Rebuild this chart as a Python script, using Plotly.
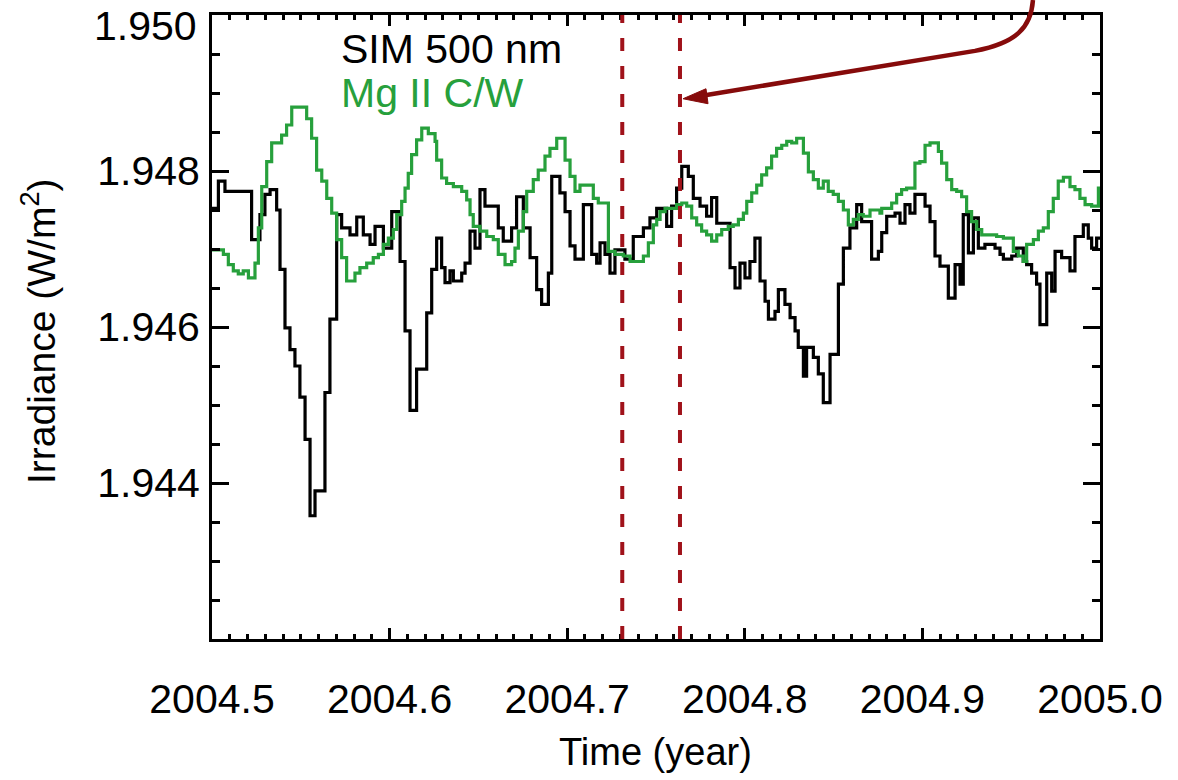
import plotly.graph_objects as go

# ---------------- data ----------------
sim_time = [
    2004.5000, 2004.5036, 2004.5073, 2004.5223, 2004.5270, 2004.5298, 2004.5327, 2004.5364,
    2004.5383, 2004.5411, 2004.5439, 2004.5467, 2004.5495, 2004.5524, 2004.5552, 2004.5580,
    2004.5636, 2004.5664, 2004.5702, 2004.5730, 2004.5777, 2004.5815, 2004.5852, 2004.5890,
    2004.5918, 2004.5965, 2004.6012, 2004.6059, 2004.6087, 2004.6115, 2004.6152, 2004.6209,
    2004.6237, 2004.6265, 2004.6293, 2004.6312, 2004.6340, 2004.6359, 2004.6406, 2004.6425,
    2004.6453, 2004.6481, 2004.6509, 2004.6537, 2004.6612, 2004.6640, 2004.6687, 2004.6715,
    2004.6753, 2004.6791, 2004.6828, 2004.6856, 2004.6894, 2004.6913, 2004.6959, 2004.6988,
    2004.7016, 2004.7044, 2004.7091, 2004.7138, 2004.7166, 2004.7185, 2004.7213, 2004.7241,
    2004.7269, 2004.7325, 2004.7372, 2004.7429, 2004.7466, 2004.7504, 2004.7560, 2004.7588,
    2004.7616, 2004.7645, 2004.7682, 2004.7710, 2004.7748, 2004.7785, 2004.7813, 2004.7842,
    2004.7917, 2004.7945, 2004.7973, 2004.8001, 2004.8029, 2004.8057, 2004.8086, 2004.8114,
    2004.8133, 2004.8170, 2004.8189, 2004.8226, 2004.8255, 2004.8283, 2004.8301, 2004.8330,
    2004.8348, 2004.8386, 2004.8414, 2004.8442, 2004.8480, 2004.8527, 2004.8555, 2004.8592,
    2004.8630, 2004.8658, 2004.8714, 2004.8752, 2004.8771, 2004.8799, 2004.8846, 2004.8874,
    2004.8902, 2004.8930, 2004.8958, 2004.9015, 2004.9043, 2004.9071, 2004.9099, 2004.9146,
    2004.9184, 2004.9212, 2004.9230, 2004.9259, 2004.9287, 2004.9315, 2004.9352, 2004.9409,
    2004.9437, 2004.9456, 2004.9503, 2004.9531, 2004.9568, 2004.9587, 2004.9615, 2004.9643,
    2004.9662, 2004.9700, 2004.9728, 2004.9747, 2004.9784, 2004.9831, 2004.9859, 2004.9906,
    2004.9934, 2004.9953, 2004.9981, 2005.0000,
]
sim_irradiance = [
    1.94752, 1.94787, 1.94774, 1.94712, 1.94744, 1.94770, 1.94776, 1.94750,
    1.94674, 1.94599, 1.94571, 1.94550, 1.94510, 1.94456, 1.94358, 1.94390,
    1.94516, 1.94610, 1.94744, 1.94727, 1.94718, 1.94741, 1.94718, 1.94706,
    1.94729, 1.94701, 1.94748, 1.94684, 1.94595, 1.94493, 1.94546, 1.94618,
    1.94674, 1.94714, 1.94676, 1.94657, 1.94672, 1.94659, 1.94669, 1.94682,
    1.94723, 1.94701, 1.94776, 1.94755, 1.94727, 1.94710, 1.94727, 1.94767,
    1.94727, 1.94689, 1.94648, 1.94629, 1.94669, 1.94793, 1.94772, 1.94748,
    1.94704, 1.94687, 1.94757, 1.94693, 1.94682, 1.94708, 1.94693, 1.94669,
    1.94699, 1.94687, 1.94716, 1.94727, 1.94740, 1.94752, 1.94729, 1.94755,
    1.94778, 1.94806, 1.94793, 1.94765, 1.94755, 1.94742, 1.94766, 1.94733,
    1.94676, 1.94650, 1.94682, 1.94663, 1.94684, 1.94714, 1.94659, 1.94633,
    1.94610, 1.94620, 1.94648, 1.94629, 1.94612, 1.94595, 1.94574, 1.94537,
    1.94574, 1.94561, 1.94540, 1.94503, 1.94565, 1.94655, 1.94701, 1.94727,
    1.94757, 1.94735, 1.94687, 1.94697, 1.94721, 1.94742, 1.94746, 1.94733,
    1.94757, 1.94746, 1.94770, 1.94755, 1.94735, 1.94691, 1.94678, 1.94637,
    1.94680, 1.94655, 1.94744, 1.94695, 1.94740, 1.94701, 1.94706, 1.94701,
    1.94693, 1.94687, 1.94691, 1.94701, 1.94684, 1.94680, 1.94669, 1.94655,
    1.94603, 1.94669, 1.94646, 1.94697, 1.94689, 1.94672, 1.94716, 1.94731,
    1.94714, 1.94701, 1.94714, 1.94714,
]

mg_time = [
    2004.5000, 2004.5064, 2004.5092, 2004.5120, 2004.5148, 2004.5176, 2004.5205, 2004.5242,
    2004.5261, 2004.5280, 2004.5308, 2004.5336, 2004.5392, 2004.5420, 2004.5449, 2004.5533,
    2004.5561, 2004.5589, 2004.5618, 2004.5646, 2004.5674, 2004.5702, 2004.5730, 2004.5758,
    2004.5805, 2004.5833, 2004.5871, 2004.5908, 2004.5937, 2004.5965, 2004.5993, 2004.6021,
    2004.6040, 2004.6068, 2004.6087, 2004.6105, 2004.6124, 2004.6152, 2004.6181, 2004.6218,
    2004.6256, 2004.6265, 2004.6293, 2004.6321, 2004.6359, 2004.6406, 2004.6434, 2004.6453,
    2004.6471, 2004.6509, 2004.6547, 2004.6584, 2004.6612, 2004.6650, 2004.6687, 2004.6706,
    2004.6725, 2004.6753, 2004.6772, 2004.6809, 2004.6837, 2004.6875, 2004.6903, 2004.6941,
    2004.6988, 2004.7016, 2004.7044, 2004.7072, 2004.7147, 2004.7175, 2004.7232, 2004.7269,
    2004.7316, 2004.7354, 2004.7429, 2004.7457, 2004.7485, 2004.7504, 2004.7523, 2004.7551,
    2004.7616, 2004.7645, 2004.7673, 2004.7701, 2004.7729, 2004.7757, 2004.7785, 2004.7813,
    2004.7842, 2004.7870, 2004.7907, 2004.7935, 2004.7964, 2004.7992, 2004.8011, 2004.8039,
    2004.8067, 2004.8095, 2004.8123, 2004.8151, 2004.8179, 2004.8208, 2004.8236, 2004.8264,
    2004.8292, 2004.8330, 2004.8358, 2004.8386, 2004.8414, 2004.8442, 2004.8470, 2004.8498,
    2004.8527, 2004.8555, 2004.8583, 2004.8611, 2004.8639, 2004.8667, 2004.8705, 2004.8761,
    2004.8771, 2004.8827, 2004.8855, 2004.8883, 2004.8911, 2004.8958, 2004.8986, 2004.9015,
    2004.9043, 2004.9090, 2004.9108, 2004.9137, 2004.9165, 2004.9193, 2004.9221, 2004.9249,
    2004.9277, 2004.9306, 2004.9334, 2004.9418, 2004.9456, 2004.9512, 2004.9540, 2004.9568,
    2004.9587, 2004.9625, 2004.9653, 2004.9681, 2004.9709, 2004.9737, 2004.9765, 2004.9794,
    2004.9831, 2004.9859, 2004.9887, 2004.9916, 2004.9953, 2004.9991, 2005.0000,
]
mg_irradiance = [
    1.94699, 1.94693, 1.94680, 1.94672, 1.94668, 1.94672, 1.94663, 1.94682,
    1.94727, 1.94780, 1.94812, 1.94836, 1.94846, 1.94859, 1.94882, 1.94867,
    1.94842, 1.94801, 1.94787, 1.94765, 1.94746, 1.94712, 1.94689, 1.94659,
    1.94669, 1.94676, 1.94682, 1.94689, 1.94693, 1.94706, 1.94714, 1.94725,
    1.94744, 1.94761, 1.94778, 1.94797, 1.94821, 1.94840, 1.94855, 1.94848,
    1.94838, 1.94814, 1.94791, 1.94784, 1.94780, 1.94774, 1.94763, 1.94744,
    1.94729, 1.94723, 1.94716, 1.94712, 1.94693, 1.94680, 1.94684, 1.94701,
    1.94723, 1.94748, 1.94774, 1.94789, 1.94801, 1.94819, 1.94829, 1.94842,
    1.94814, 1.94793, 1.94774, 1.94782, 1.94765, 1.94759, 1.94697, 1.94693,
    1.94691, 1.94684, 1.94691, 1.94708, 1.94731, 1.94738, 1.94748, 1.94752,
    1.94757, 1.94759, 1.94755, 1.94740, 1.94731, 1.94723, 1.94718, 1.94710,
    1.94718, 1.94725, 1.94729, 1.94731, 1.94738, 1.94746, 1.94761, 1.94772,
    1.94782, 1.94795, 1.94804, 1.94819, 1.94829, 1.94833, 1.94838, 1.94836,
    1.94842, 1.94823, 1.94799, 1.94789, 1.94778, 1.94787, 1.94774, 1.94770,
    1.94761, 1.94750, 1.94731, 1.94738, 1.94744, 1.94742, 1.94750, 1.94746,
    1.94752, 1.94759, 1.94770, 1.94776, 1.94778, 1.94810, 1.94812, 1.94833,
    1.94836, 1.94825, 1.94810, 1.94789, 1.94776, 1.94774, 1.94767, 1.94748,
    1.94735, 1.94725, 1.94718, 1.94716, 1.94714, 1.94697, 1.94691, 1.94684,
    1.94706, 1.94712, 1.94723, 1.94727, 1.94748, 1.94765, 1.94787, 1.94792,
    1.94780, 1.94776, 1.94765, 1.94757, 1.94755, 1.94778, 1.94778,
]

event_times = [2004.7310, 2004.7635]
x_tick_values = [2004.5, 2004.6, 2004.7, 2004.8, 2004.9, 2005.0]
x_tick_labels = ["2004.5", "2004.6", "2004.7", "2004.8", "2004.9", "2005.0"]
y_tick_values = [1.944, 1.946, 1.948]
y_tick_labels = ["1.944", "1.946", "1.948"]
y_top_label = "1.950"
series_names = ["SIM 500 nm", "Mg II C/W"]

# ---------------- styling ----------------
FONT = "Liberation Sans, Arial, Helvetica, sans-serif"
GREEN = "#27a03c"
DASH_RED = "#a0121a"
ARROW_RED = "#860b0b"
W, H = 1178, 780
ML, MR, MT, MB = 212, 78, 13, 141
PW, PH = W - ML - MR, H - MT - MB


def paper(px, py):
    return (px - ML) / PW, (H - MB - py) / PH


fig = go.Figure()
fig.add_trace(go.Scatter(x=sim_time, y=sim_irradiance, mode="lines", name=series_names[0],
                         line=dict(color="black", width=3.2, shape="hv")))
fig.add_trace(go.Scatter(x=mg_time, y=mg_irradiance, mode="lines", name=series_names[1],
                         line=dict(color=GREEN, width=3.2, shape="hv")))

for t in event_times:
    fig.add_shape(type="line", xref="x", yref="paper", x0=t, x1=t, y0=0, y1=1,
                  line=dict(color=DASH_RED, width=4, dash="13px,15px"), layer="above")

# curved arrow (annotation graphic)
pts = [paper(1033, -2), paper(1031, 26), paper(1016, 41), paper(975, 49), paper(702, 94)]
path = "M {0[0]:.4f},{0[1]:.4f} C {1[0]:.4f},{1[1]:.4f} {2[0]:.4f},{2[1]:.4f} {3[0]:.4f},{3[1]:.4f} L {4[0]:.4f},{4[1]:.4f}".format(*pts)
fig.add_shape(type="path", xref="paper", yref="paper", path=path,
              line=dict(color=ARROW_RED, width=4.5))
tri = [paper(683, 97), paper(706, 87), paper(708, 102)]
fig.add_shape(type="path", xref="paper", yref="paper",
              path="M {0[0]:.4f},{0[1]:.4f} L {1[0]:.4f},{1[1]:.4f} L {2[0]:.4f},{2[1]:.4f} Z".format(*tri),
              fillcolor=ARROW_RED, line=dict(color=ARROW_RED, width=1))

# legend text
lx, ly1 = paper(339, 47)
_, ly2 = paper(339, 91)
fig.add_annotation(x=lx, y=ly1, xref="paper", yref="paper", text=series_names[0], showarrow=False,
                   xanchor="left", yanchor="middle", font=dict(family=FONT, size=41, color="black"))
fig.add_annotation(x=lx, y=ly2, xref="paper", yref="paper", text=series_names[1], showarrow=False,
                   xanchor="left", yanchor="middle", font=dict(family=FONT, size=41, color=GREEN))

# top y label placed like the reference
tx, ty = paper(199, 24)
fig.add_annotation(x=tx, y=ty, xref="paper", yref="paper", text=y_top_label, showarrow=False,
                   xanchor="right", yanchor="middle", font=dict(family=FONT, size=41, color="black"))

# axis titles
ax_x, ax_y = paper(655, 752)
fig.add_annotation(x=ax_x, y=ax_y, xref="paper", yref="paper", text="Time (year)", showarrow=False,
                   xanchor="center", yanchor="middle", font=dict(family=FONT, size=38, color="black"))
ay_x, ay_y = paper(39, 330)
fig.add_annotation(x=ay_x, y=ay_y, xref="paper", yref="paper", text="Irradiance (W/m<sup>2</sup>)",
                   showarrow=False, textangle=-90, xanchor="center", yanchor="middle",
                   font=dict(family=FONT, size=39, color="black"))

fig.update_layout(
    width=W, height=H, margin=dict(l=ML, r=MR, t=MT, b=MB),
    paper_bgcolor="white", plot_bgcolor="white", showlegend=False,
    font=dict(family=FONT, color="black"),
)
fig.update_xaxes(range=[2004.5, 2005.0], tickvals=x_tick_values, ticktext=x_tick_labels,
                 ticks="inside", ticklen=11, tickwidth=2.5, tickcolor="black",
                 minor=dict(dtick=0.01, ticks="inside", ticklen=5, tickwidth=2.5, tickcolor="black"),
                 showline=True, linewidth=3, linecolor="black", mirror="ticks",
                 showgrid=False, zeroline=False, tickfont=dict(family=FONT, size=41),
                 ticklabelstandoff=22)
fig.update_yaxes(range=[1.942, 1.950], tickvals=y_tick_values, ticktext=y_tick_labels,
                 ticks="inside", ticklen=17, tickwidth=2.5, tickcolor="black",
                 minor=dict(dtick=0.0005, ticks="inside", ticklen=8, tickwidth=2.5, tickcolor="black"),
                 showline=True, linewidth=3, linecolor="black", mirror="ticks",
                 showgrid=False, zeroline=False, tickfont=dict(family=FONT, size=41),
                 ticklabelstandoff=1)

fig.write_html("out.html", config={"displayModeBar": False},
               post_script="document.body.style.margin='0px';document.body.style.overflow='hidden';")
